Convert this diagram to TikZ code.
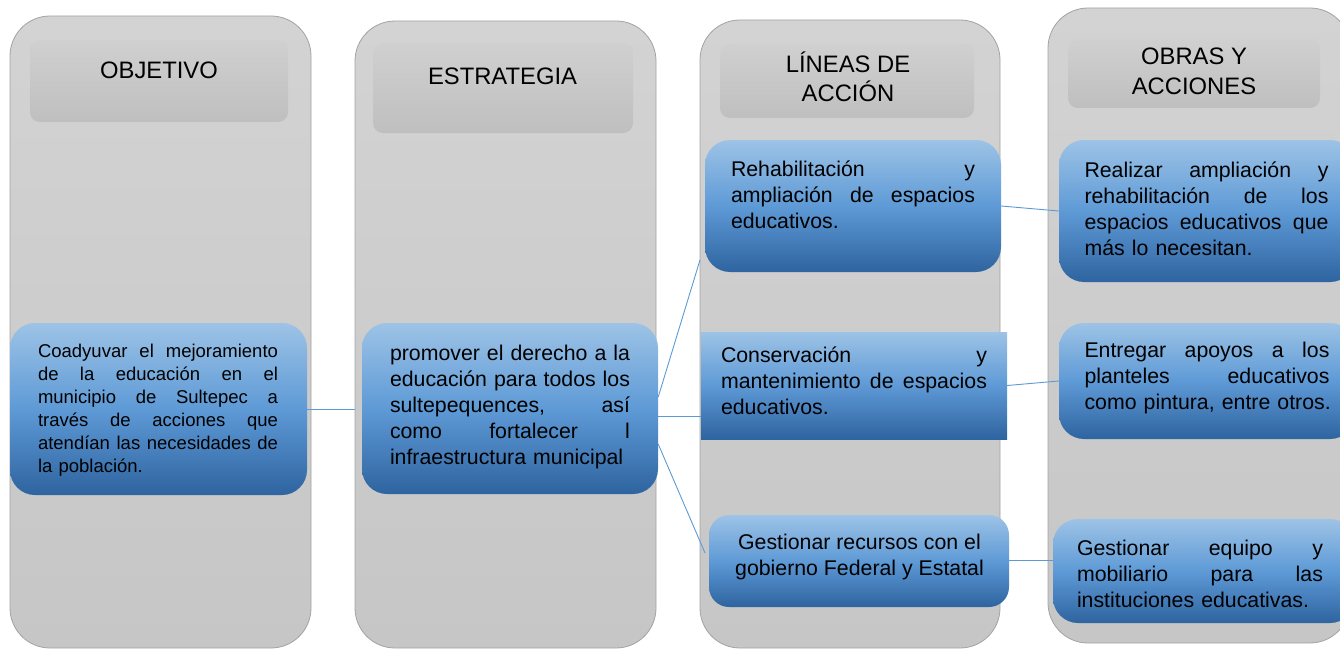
\documentclass[tikz,border=0pt]{standalone}
\usepackage{fontspec}
\setmainfont{Liberation Sans}
\usetikzlibrary{fit,calc}
\definecolor{paneltop}{HTML}{D3D3D3}
\definecolor{panelbot}{HTML}{C6C6C6}
\definecolor{panelborder}{HTML}{A3A3A3}
\definecolor{headtop}{HTML}{D0D0D0}
\definecolor{headbot}{HTML}{BFBFBF}
\definecolor{bluetop}{HTML}{9DC3E6}
\definecolor{bluemid}{HTML}{5E9AD6}
\definecolor{bluebot}{HTML}{2E64A0}
\definecolor{connblue}{HTML}{5B9BD5}
\newcommand{\myfa}{\fontsize{18.5}{23}\selectfont}
\newcommand{\myfb}{\fontsize{21.3}{26}\selectfont}
\newcommand{\myfc}{\fontsize{21.3}{25.8}\selectfont}
\newcommand{\myfh}{\fontsize{23.8}{29.5}\selectfont}
\newcommand{\jl}[1]{\leavevmode\hbox to\hsize{\spaceskip=0pt\xspaceskip=0pt #1}}
\tikzset{
  panel/.style={draw=panelborder, line width=0.8pt, rounded corners=40pt,
    top color=paneltop, bottom color=panelbot, inner sep=0pt},
  header/.style={rounded corners=10pt, top color=headtop, bottom color=headbot, inner sep=0pt},
  bluebox/.style={rounded corners=25pt, top color=bluetop, bottom color=bluebot,
    middle color=bluemid, inner sep=0pt},
  txt/.style={inner sep=0pt, align=left, text=black},
  htxt/.style={inner sep=0pt, font=\myfh, text=black},
  conn/.style={draw=connblue, line width=0.9pt}
}
\begin{document}
\begin{tikzpicture}[x=1pt,y=-1pt]
\useasboundingbox (0,0) rectangle (1340,650);
\clip (0,0) rectangle (1340,650);
% column panels
\node[panel, fit={(10,16) (311,648)}] (c1) {};
\node[panel, fit={(355,21) (656,648)}] (c2) {};
\node[panel, fit={(700,20) (1000,648)}] (c3) {};
\node[panel, fit={(1048,8) (1350,643)}] (c4) {};
% headers
\node[header, fit={(30,40) (288,122)}] (h1) {};
\node[header, fit={(373,43) (633,133)}] (h2) {};
\node[header, fit={(720,44) (974,118)}] (h3) {};
\node[header, fit={(1068,39) (1320,108)}] (h4) {};
\node[htxt] (ht1) at (159,70.5) {OBJETIVO};
\node[htxt] (ht2) at (502.5,76.5) {ESTRATEGIA};
\node[htxt, align=center] (ht3) at (848,77) {LÍNEAS DE\\ACCIÓN};
\node[htxt, align=center] (ht4) at (1194,71.5) {OBRAS Y\\ACCIONES};
% blue boxes
\node[bluebox, fit={(10,323) (307,495)}] (b1) {};
\node[bluebox, fit={(362,323) (658,494)}] (b2) {};
\node[bluebox, fit={(705,140) (1001,272)}] (b3) {};
\node[bluebox, sharp corners, fit={(701,332) (1007,439)}] (b4) {};
\node[bluebox, rounded corners=20pt, fit={(709,515) (1009,607)}] (b5) {};
\node[bluebox, fit={(1059,140) (1355,282)}] (b6) {};
\node[bluebox, fit={(1059,323) (1355,439)}] (b7) {};
\node[bluebox, fit={(1053,519) (1355,623)}] (b8) {};
% connectors
\coordinate (p3) at (700,260);
\coordinate (p5) at (705,553);
\draw[conn] (b1.east) -- (b1.east -| c2.west);
\draw[conn] (b2.east |- 0,397) -- (p3);
\draw[conn] (b2.east |- 0,416) -- (b4.west |- 0,416);
\draw[conn] (b2.east |- 0,444) -- (p5);
\draw[conn] (b3.east) -- (b6.west);
\draw[conn] (b4.east) -- (b7.west);
\draw[conn] (b5.east |- 0,560) -- (b8.west |- 0,560);
% texts
\node[txt, text width=240pt, font=\myfa] (t1) at (158,410.5)
  {\jl{Coadyuvar el mejoramiento}\\\jl{de la educación en el}\\\jl{municipio de Sultepec a}\\\jl{través de acciones que}\\\jl{atendían las necesidades de}\\\mbox{la población.}};
\node[txt, text width=240pt, font=\myfc] (t2) at (510,407)
  {\jl{promover el derecho a la}\\\jl{educación para todos los}\\\jl{sultepequences, así}\\\jl{como fortalecer l}\\\mbox{infraestructura municipal}};
\node[txt, text width=244pt, font=\myfb] (t3) at (853,194.5)
  {\jl{Rehabilitación y}\\\jl{ampliación de espacios}\\\mbox{educativos.}};
\node[txt, text width=266pt, font=\myfb] (t4) at (854,381)
  {\jl{Conservación y}\\\jl{mantenimiento de espacios}\\\mbox{educativos.}};
\node[txt, align=center, font=\myfb] (t5) at (859.5,556.5)
  {Gestionar recursos con el\\gobierno Federal y Estatal};
\node[txt, text width=244pt, font=\myfb] (t6) at (1206.5,209)
  {\jl{Realizar ampliación y}\\\jl{rehabilitación de los}\\\jl{espacios educativos que}\\\mbox{más lo necesitan.}};
\node[txt, text width=245pt, font=\myfb] (t7) at (1207,378)
  {\jl{Entregar apoyos a los}\\\jl{planteles educativos}\\\mbox{como pintura, entre otros.}};
\node[txt, text width=246pt, font=\myfb] (t8) at (1200,574)
  {\jl{Gestionar equipo y}\\\jl{mobiliario para las}\\\mbox{instituciones educativas.}};
\end{tikzpicture}
\end{document}
